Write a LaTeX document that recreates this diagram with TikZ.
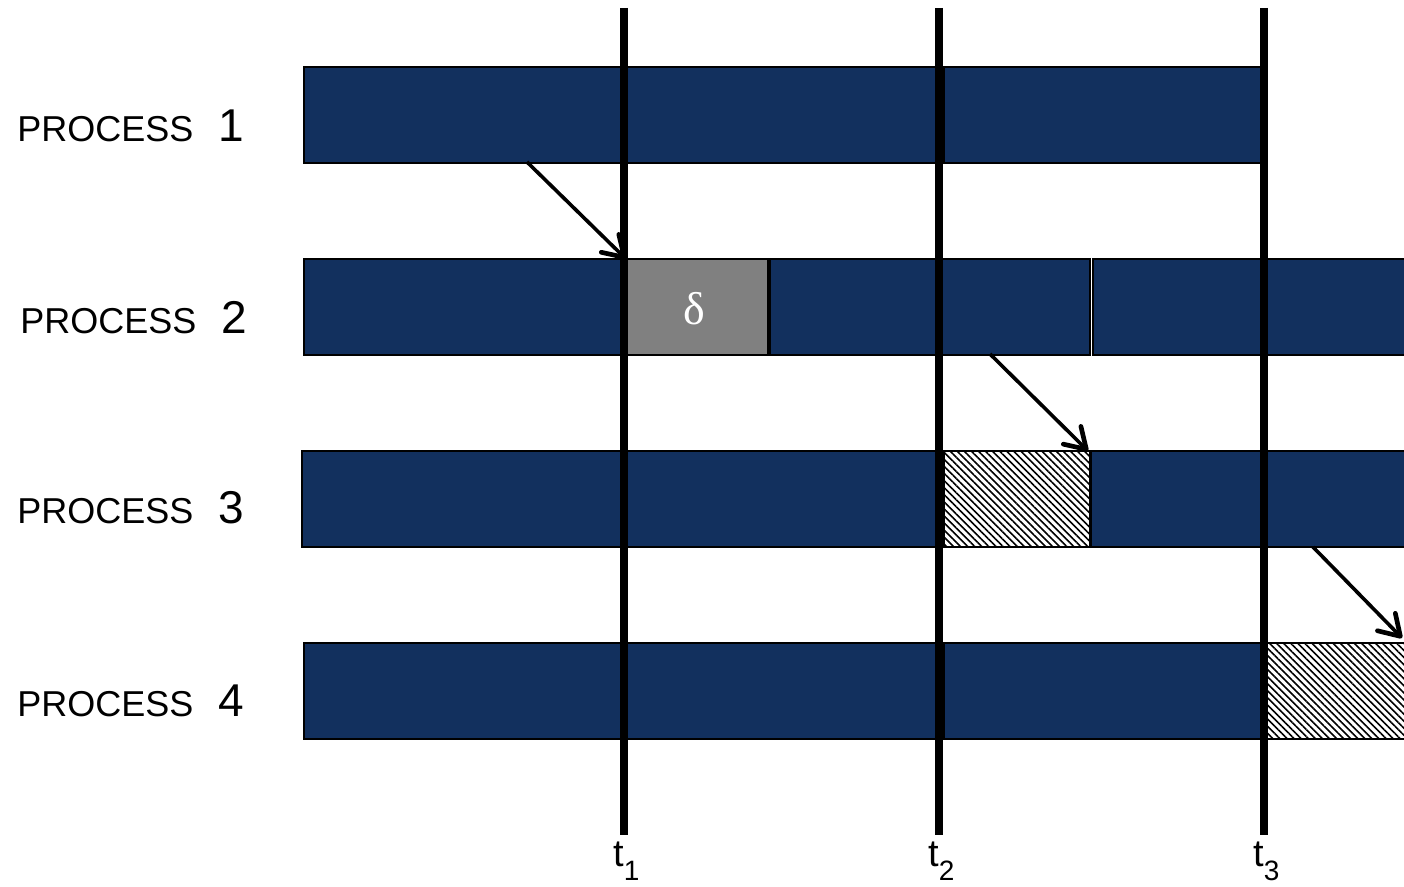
\documentclass[tikz,border=0pt]{standalone}
\usepackage{fontspec}
\setmainfont{Liberation Sans}
\newfontfamily\deltafont{Liberation Serif}
\usetikzlibrary{arrows.meta,patterns.meta}

\definecolor{barblue}{HTML}{12305E}
\definecolor{waitgray}{HTML}{808080}

% one segment of a process bar: name, style, left x, right x, top y
\newcommand{\segment}[5]{%
  \node[#2, anchor=north west, minimum width={(#4-#3)*0.5pt}, minimum height=48pt] (#1) at (#3,#5) {};}

\begin{document}
\begin{tikzpicture}[x=0.5pt, y=-0.5pt,
		seg/.style={draw=black, line width=0.8pt, inner sep=0pt, outer sep=0pt},
		busy/.style={seg, fill=barblue},
		wait/.style={seg, fill=waitgray},
		idle/.style={seg, fill=white, pattern={Lines[angle=-45, distance=2.5pt, line width=0.8pt]}},
		tline/.style={line width=3.8pt},
		msg/.style={line width=1.8pt, -{Straight Barb[length=10pt, width=12.5pt, line width=0pt 1.3, line cap=round, line join=round]}},
		proc/.style={anchor=base west, inner sep=0pt, font=\fontsize{18pt}{18pt}\selectfont}
		]
		
		% Frame
		\useasboundingbox (0,0) rectangle (1404,887);
		
		% Row tops
		\def\rowA{67}
		\def\rowB{259}
		\def\rowC{451}
		\def\rowD{643}
		
		% Process labels
		\node[proc] (lab1) at (17,142) {PROCESS\hspace{12.5pt}{\fontsize{23pt}{23pt}\selectfont 1}};
		\node[proc] (lab2) at (20,334) {PROCESS\hspace{12.5pt}{\fontsize{23pt}{23pt}\selectfont 2}};
		\node[proc] (lab3) at (17,524) {PROCESS\hspace{12.5pt}{\fontsize{23pt}{23pt}\selectfont 3}};
		\node[proc] (lab4) at (17,717) {PROCESS\hspace{12.5pt}{\fontsize{23pt}{23pt}\selectfont 4}};
		
		% Process 1
		\segment{p1a}{busy}{304}{936}{\rowA}
		\segment{p1b}{busy}{944}{1261}{\rowA}
		
		% Process 2
		\segment{p2a}{busy}{304}{624}{\rowB}
		\segment{p2d}{wait}{626}{768}{\rowB}
		\segment{p2b}{busy}{770}{1090}{\rowB}
		\segment{p2c}{busy}{1093}{1412}{\rowB}
		\node[text=white, font=\deltafont\fontsize{23pt}{23pt}\selectfont] (delta) at (694,309) {δ};
		
		% Process 3
		\segment{p3a}{busy}{302}{936}{\rowC}
		\segment{p3h}{idle}{944}{1090}{\rowC}
		\segment{p3b}{busy}{1091}{1412}{\rowC}
		
		% Process 4
		\segment{p4a}{busy}{304}{936}{\rowD}
		\segment{p4b}{busy}{944}{1264}{\rowD}
		\segment{p4h}{idle}{1267}{1412}{\rowD}
		
		% Time lines
		\foreach \x/\i in {624/1, 939/2, 1264/3} {
			\coordinate (top\i) at (\x,8);
			\coordinate (bot\i) at (\x,835);
			\draw[tline] (top\i) -- (bot\i);
			\node[anchor=base west, inner sep=0pt, font=\fontsize{19pt}{19pt}\selectfont] (t\i) at (\x-11,866)
				{t\raisebox{-7pt}{\fontsize{14pt}{14pt}\selectfont\i}};
		}
		
		% Messages
		\coordinate (m1) at (527,162);
		\coordinate (m2) at (990,354);
		\coordinate (m3) at (1313,547);
		\coordinate (e3) at (1402,638);
		\draw[msg] (m1) -- (p2d.north west);
		\draw[msg] (m2) -- ([xshift=-1pt]p3h.north east);
		\draw[msg] (m3) -- (e3);
		
	\end{tikzpicture}
\end{document}
